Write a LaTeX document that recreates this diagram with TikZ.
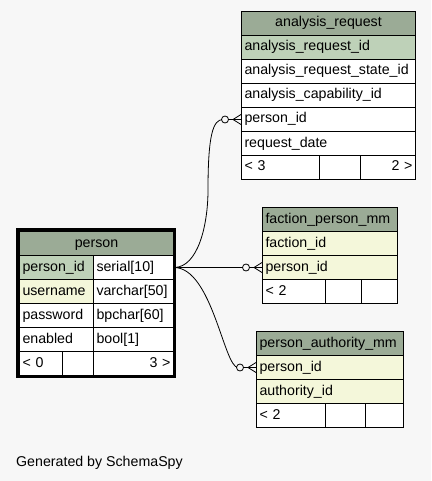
\documentclass[tikz,border=0pt]{standalone}
\usepackage{fontspec}
\setmainfont{Liberation Sans}
\usepackage{xcolor}
\usetikzlibrary{positioning}
\definecolor{bgcol}{HTML}{F7F7F7}
\definecolor{headcol}{HTML}{9BAB96}
\definecolor{pkcol}{HTML}{BED1B8}
\definecolor{fkcol}{HTML}{F4F7DA}

% crow's foot with open circle, at the west side of a row
\newcommand{\crowfoot}[1]{
\draw[conn] (#1) ++(-8,0) -- ++(8,-5);
\draw[conn] (#1) ++(-8,0) -- ++(8,5);
\draw[conn,fill=bgcol] (#1) ++(-16,0) circle (3.5pt);
}

\begin{document}
\begin{tikzpicture}[x=1pt,y=-1pt,
  cell/.style={draw,line width=1pt,fill=white,anchor=north west,minimum height=24pt,
    inner xsep=3pt,inner ysep=0pt,text height=10pt,text depth=3pt,align=left,
    font=\fontsize{14.2}{16}\selectfont},
  head/.style={cell,fill=headcol,align=center},
  pk/.style={cell,fill=pkcol},
  fk/.style={cell,fill=fkcol},
  conn/.style={line width=0.8pt}]
\fill[bgcol] (0,0) rectangle (431,481);
\useasboundingbox (0,0) rectangle (431,481);

% analysis_request
\node[head,text width=168pt] (ar-head) at (241,11) {analysis\_request};
\node[pk,text width=168pt] (ar-id) at (241,35) {analysis\_request\_id};
\node[cell,text width=168pt] (ar-state) at (241,59) {analysis\_request\_state\_id};
\node[cell,text width=168pt] (ar-cap) at (241,83) {analysis\_capability\_id};
\node[cell,text width=168pt] (ar-pid) at (241,107) {person\_id};
\node[cell,text width=168pt] (ar-date) at (241,131) {request\_date};
\node[cell,text width=72pt] (ar-f1) at (241,155) {< 3};
\node[cell,text width=35pt] (ar-f2) at (319,155) {};
\node[cell,text width=49pt,align=right] (ar-f3) at (360,155) {2 >};

% person
\node[head,text width=148pt] (p-head) at (19,231) {person};
\node[pk,text width=68pt] (p-pid) at (19,255) {person\_id};
\node[cell,text width=74pt] (p-pidt) at (93,255) {serial[10]};
\node[fk,text width=68pt] (p-user) at (19,279) {username};
\node[cell,text width=74pt] (p-usert) at (93,279) {varchar[50]};
\node[cell,text width=68pt] (p-pass) at (19,303) {password};
\node[cell,text width=74pt] (p-passt) at (93,303) {bpchar[60]};
\node[cell,text width=68pt] (p-en) at (19,327) {enabled};
\node[cell,text width=74pt] (p-ent) at (93,327) {bool[1]};
\node[cell,text width=37pt] (p-f1) at (19,351) {< 0};
\node[cell,text width=25pt] (p-f2) at (62,351) {};
\node[cell,text width=74pt,align=right] (p-f3) at (93,351) {3 >};

% faction_person_mm
\node[head,text width=129pt,align=left] (fp-head) at (262,207) {faction\_person\_mm};
\node[fk,text width=129pt] (fp-fid) at (262,231) {faction\_id};
\node[fk,text width=129pt] (fp-pid) at (262,255) {person\_id};
\node[cell,text width=57pt] (fp-f1) at (262,279) {< 2};
\node[cell,text width=30pt] (fp-f2) at (325,279) {};
\node[cell,text width=30pt] (fp-f3) at (361,279) {};

% person_authority_mm
\node[head,text width=141pt,align=left] (pa-head) at (256,331) {person\_authority\_mm};
\node[fk,text width=141pt] (pa-pid) at (256,355) {person\_id};
\node[fk,text width=141pt] (pa-aid) at (256,379) {authority\_id};
\node[cell,text width=63pt] (pa-f1) at (256,403) {< 2};
\node[cell,text width=34pt] (pa-f2) at (325,403) {};
\node[cell,text width=32pt] (pa-f3) at (365,403) {};

% relations
\coordinate (ar-mid) at (208,190);
\coordinate[left=18pt of ar-pid.west] (ar-in);
\coordinate[left=18pt of pa-pid.west] (pa-in);
\draw[conn] (p-pidt.east) -- (fp-pid.west);
\draw[conn] (p-pidt.east) .. controls +(24,0) and +(0,35) .. (ar-mid)
  .. controls +(0,-55) and +(-10,0) .. (ar-in) -- (ar-pid.west);
\draw[conn] (p-pidt.east) .. controls +(38,0) and +(-14,0) .. (pa-in) -- (pa-pid.west);
\crowfoot{ar-pid.west}
\crowfoot{fp-pid.west}
\crowfoot{pa-pid.west}

\draw[line width=3pt] (17.5,229.5) rectangle (174.5,376.5);

\node[anchor=base west,inner sep=0pt,font=\fontsize{14.2}{16}\selectfont] (gen) at (16,466) {Generated by SchemaSpy};
\end{tikzpicture}
\end{document}
